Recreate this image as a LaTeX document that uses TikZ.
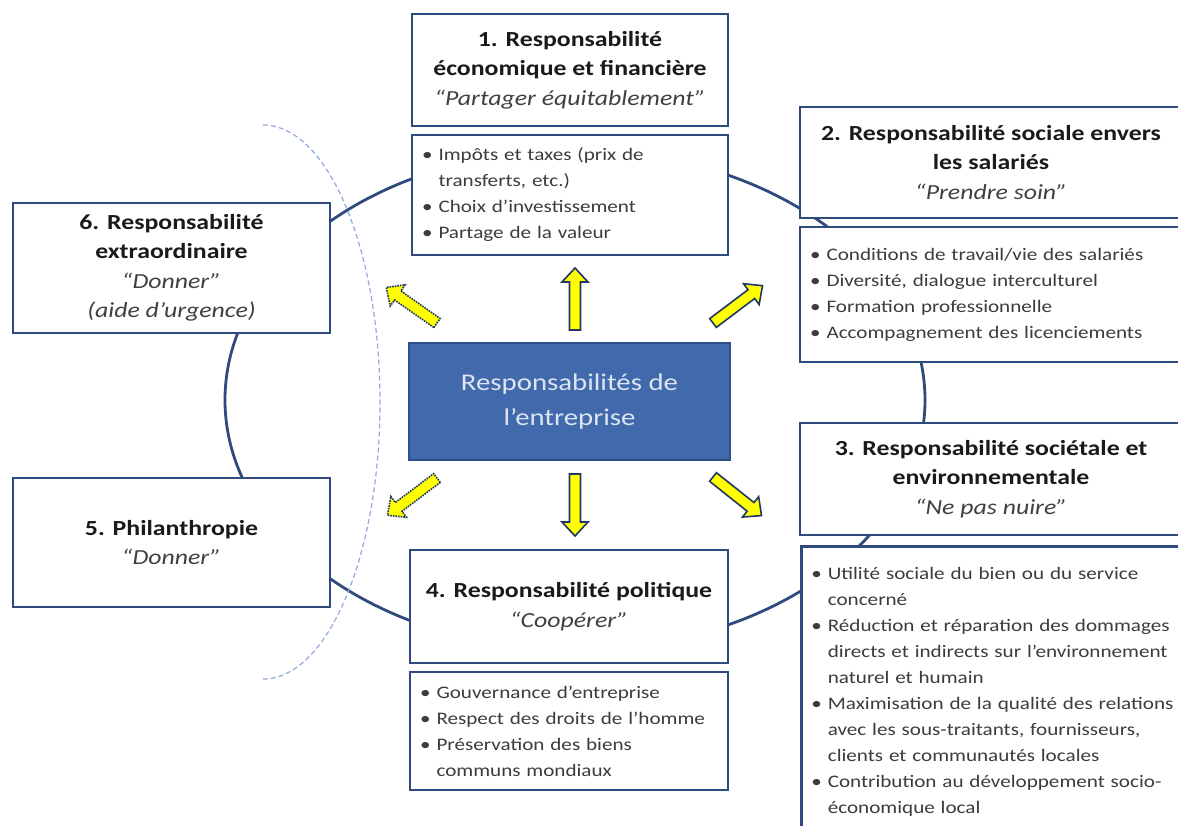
\documentclass[tikz,border=0pt]{standalone}
\usepackage{fontspec}
\setmainfont{Carlito}[FakeStretch=1.2]
\definecolor{navy}{HTML}{2F4B7D}
\definecolor{arrowedge}{HTML}{1F3864}
\definecolor{centerfill}{HTML}{4169AB}
\definecolor{centeredge}{HTML}{2F4F8A}
\definecolor{centertext}{HTML}{DCE5F2}
\definecolor{titletext}{HTML}{1A1A1A}
\definecolor{quotetext}{HTML}{404040}
\definecolor{listtext}{HTML}{3C3C3C}
\definecolor{dashblue}{HTML}{8FAADC}
\definecolor{arrowyellow}{HTML}{FFFF00}
\newcommand\bl{\textbullet\hspace{6pt}}
\newcommand\bc{\hphantom{\textbullet}\hspace{6pt}}
\newcommand\qt[1]{{\normalfont\itshape\color{quotetext}“#1”}}
\tikzset{
  boxbase/.style={draw=navy, line width=2.6pt, fill=white, inner sep=0pt},
  titlebox/.style={boxbase, align=center, text=titletext,
    font=\bfseries\fontsize{21.5}{29.5}\selectfont},
  listbox/.style={boxbase, align=left, inner xsep=10pt, text=listtext,
    font=\fontsize{17.6}{26}\selectfont},
  ring/.style={draw=navy, line width=2.8pt},
  dashring/.style={draw=dashblue, line width=1.2pt, dash pattern=on 5pt off 3pt},
  solidarrow/.style={draw=arrowedge, line width=1.6pt, fill=arrowyellow, line join=miter},
  dotarrow/.style={draw=arrowedge, line width=1.6pt, fill=arrowyellow, densely dotted},
  pics/blockarrow/.style={code={
    \draw[#1] (0,-5.5) -- (48,-5.5) -- (48,-13) -- (62,0) -- (48,13) -- (48,5.5) -- (0,5.5) -- cycle;
  }}
}
\begin{document}
\begin{tikzpicture}[x=1pt,y=-1pt]
\useasboundingbox (0,0) rectangle (1178,825);
\fill[white] (0,0) rectangle (1178,825);
\clip (0,0) rectangle (1178,825);

% ring behind the boxes
\coordinate (ringc) at (575,400);
\draw[ring] (ringc) ellipse [x radius=350, y radius=250];

% dashed arc
\coordinate (dtop) at (263,125);
\draw[dashring] (dtop) arc [start angle=-90, end angle=90, x radius=117, y radius=277];

% centre
\node[draw=centeredge, line width=1.6pt, fill=centerfill, text=centertext,
      minimum width=321pt, minimum height=117pt, align=center,
      font=\fontsize{24}{35}\selectfont] (c) at (569.5,401.5)
      {Responsabilités de\\l’entreprise};

% 1
\node[titlebox, minimum width=316pt, minimum height=112pt] (t1) at (570,70)
  {1. Responsabilité\\économique et financière\\\qt{Partager équitablement}};
\node[listbox, text width=296pt, minimum height=120pt] (b1) at (570,195)
  {\bl Impôts et taxes (prix de\\\bc transferts, etc.)\\\bl Choix d’investissement\\\bl Partage de la valeur};

% 2
\node[titlebox, minimum width=382pt, minimum height=111pt] (t2) at (991,162.5)
  {2. Responsabilité sociale envers\\les salariés\\\qt{Prendre soin}};
\node[listbox, text width=362pt, minimum height=135pt] (b2) at (991,294.5)
  {\bl Conditions de travail/vie des salariés\\\bl Diversité, dialogue interculturel\\\bl Formation professionnelle\\\bl Accompagnement des licenciements};

% 3
\node[titlebox, minimum width=382pt, minimum height=112pt] (t3) at (991,479)
  {3. Responsabilité sociétale et\\environnementale\\\qt{Ne pas nuire}};
\node[listbox, text width=420pt, anchor=north west, inner ysep=21pt] (b3) at (800,545)
  {\bl Utilité sociale du bien ou du service\\\bc concerné\\\bl Réduction et réparation des dommages\\\bc directs et indirects sur l’environnement\\\bc naturel et humain\\\bl Maximisation de la qualité des relations\\\bc avec les sous-traitants, fournisseurs,\\\bc clients et communautés locales\\\bl Contribution au développement socio-\\\bc économique local\\\bc ~\\\bc ~};

% 4
\node[titlebox, minimum width=318pt, minimum height=113pt] (t4) at (569,606.5)
  {4. Responsabilité politique\\\qt{Coopérer}};
\node[listbox, text width=298pt, minimum height=118pt] (b4) at (569,731)
  {\bl Gouvernance d’entreprise\\\bl Respect des droits de l’homme\\\bl Préservation des biens\\\bc communs mondiaux};

% 5
\node[titlebox, minimum width=317pt, minimum height=129pt] (t5) at (171.5,542.5)
  {5. Philanthropie\\\qt{Donner}};

% 6
\node[titlebox, minimum width=317pt, minimum height=130pt] (t6) at (171.5,268)
  {6. Responsabilité\\extraordinaire\\\qt{Donner}\\{\normalfont\itshape\color{quotetext}(aide d’urgence)}};

% arrows
\pic[rotate=90] at (575,330) {blockarrow=solidarrow};
\pic[rotate=-90] at (575,474) {blockarrow=solidarrow};
\pic[rotate=37] at (713,323) {blockarrow=solidarrow};
\pic[rotate=-38.5] at (713,477) {blockarrow=solidarrow};
\pic[rotate=145] at (437,323) {blockarrow=dotarrow};
\pic[rotate=-143] at (437,478) {blockarrow=dotarrow};
\end{tikzpicture}
\end{document}
